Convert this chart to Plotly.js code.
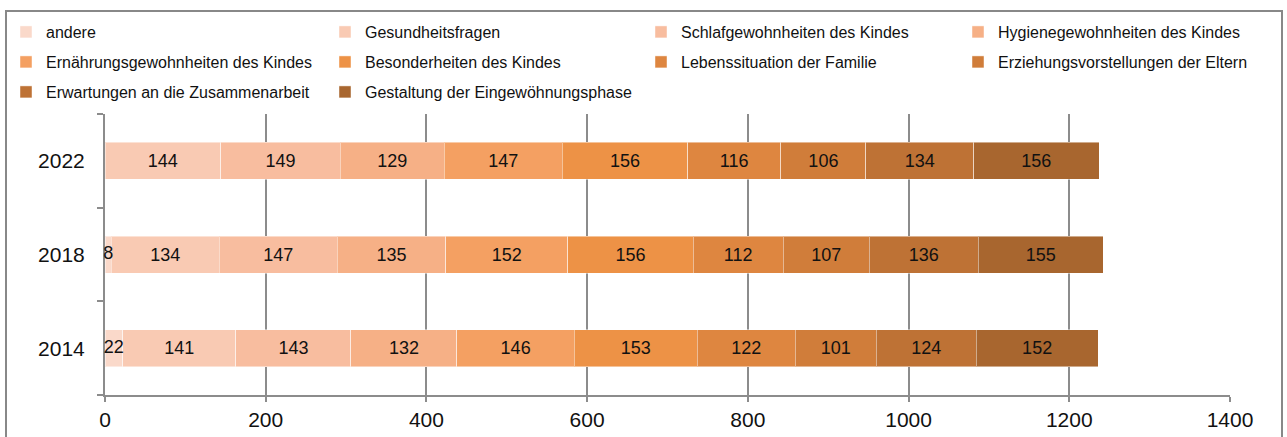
<!DOCTYPE html>
<html>
<head>
<meta charset="utf-8">
<script src="https://cdn.plot.ly/plotly-3.0.1.min.js"></script>
<style>
  html, body { margin: 0; padding: 0; background: #fff; }
  #wrap { position: relative; width: 1287px; height: 437px; overflow: hidden; }
  #chart { position: absolute; left: 0; top: 0; width: 1287px; height: 437px; }
  #frame { position: absolute; left: 5px; top: 10px; width: 1278px; height: 440px;
           border: 2px solid #888888; pointer-events: none; box-sizing: border-box; }
</style>
</head>
<body>
<div id="wrap">
  <div id="chart"></div>
  <div id="frame"></div>
</div>
<script>
// ---- data ----
const years = ['2014', '2018', '2022'];

const seriesNames = [
  'andere',
  'Gesundheitsfragen',
  'Schlafgewohnheiten des Kindes',
  'Hygienegewohnheiten des Kindes',
  'Ernährungsgewohnheiten des Kindes',
  'Besonderheiten des Kindes',
  'Lebenssituation der Familie',
  'Erziehungsvorstellungen der Eltern',
  'Erwartungen an die Zusammenarbeit',
  'Gestaltung der Eingewöhnungsphase'
];

const andere          = [22, 8, null];
const gesundheit      = [141, 134, 144];
const schlaf          = [143, 147, 149];
const hygiene         = [132, 135, 129];
const ernaehrung      = [146, 152, 147];
const besonderheiten  = [153, 156, 156];
const lebenssituation = [122, 112, 116];
const erziehung       = [101, 107, 106];
const erwartungen     = [124, 136, 134];
const gestaltung      = [152, 155, 156];

const seriesColors = [
  '#fad9ca', '#f9cab3', '#f8bd9f', '#f6b086', '#f4a062',
  '#ed9246', '#de8640', '#d07d3a', '#be7235', '#a8662f'
];

const xTicks = [0, 200, 400, 600, 800, 1000, 1200, 1400];

// ---- build ----
const seriesValues = [andere, gesundheit, schlaf, hygiene, ernaehrung,
  besonderheiten, lebenssituation, erziehung, erwartungen, gestaltung];

const FONT = 'Liberation Sans, Arial, sans-serif';

const plotL = 105, plotR = 57, plotT = 114, plotB = 42;
const W = 1287, H = 437;
const pw = W - plotL - plotR, ph = H - plotT - plotB;
const px2x = p => (p - plotL) / pw;
const py2y = p => (H - plotB - p) / ph;

// legend grid: 4 columns x 3 rows (one legend per entry)
const colBoxX = [6, 325, 641, 958];
const rowMidY = [32, 62, 92];

const legendKey = i => (i === 0 ? 'legend' : 'legend' + (i + 1));

const traces = seriesValues.map((vals, i) => ({
  type: 'bar',
  orientation: 'h',
  name: seriesNames[i],
  y: years,
  x: vals,
  // the first (tiny) segment gets its label from an overlay text trace below
  text: vals.map(v => (v === null || i === 0 ? '' : String(v))),
  texttemplate: '%{text}',
  textposition: 'inside',
  insidetextanchor: 'middle',
  textangle: 0,
  constraintext: 'none',
  cliponaxis: false,
  insidetextfont: { family: FONT, size: 18, color: '#111111' },
  marker: { color: seriesColors[i], line: { color: 'rgba(255,255,255,0.45)', width: 1 } },
  legend: legendKey(i),
  hoverinfo: 'x+name'
}));

// overlay labels for the narrow "andere" segments (drawn above the other bars)
const andereYears = years.filter((_, k) => andere[k] !== null);
const andereVals = andere.filter(v => v !== null);
traces.push({
  type: 'scatter',
  mode: 'text',
  x: andereVals.map(v => v / 2),
  y: andereYears,
  text: andereVals.map(String),
  textposition: 'middle center',
  textfont: { family: FONT, size: 18, color: '#111111' },
  cliponaxis: false,
  showlegend: false,
  hoverinfo: 'skip'
});

const layout = {
  width: W, height: H,
  margin: { l: plotL, r: plotR, t: plotT, b: plotB, pad: 0, autoexpand: false },
  paper_bgcolor: '#ffffff',
  plot_bgcolor: '#ffffff',
  barmode: 'stack',
  bargap: 0.605,
  font: { family: FONT, color: '#111111' },
  showlegend: true,
  xaxis: {
    range: [0, 1400],
    tickvals: xTicks,
    ticktext: xTicks.map(String),
    showgrid: true, gridcolor: '#8c8c8c', gridwidth: 2,
    zeroline: false,
    showline: true, linecolor: '#8c8c8c', linewidth: 2,
    ticks: 'outside', ticklen: 5, tickcolor: '#8c8c8c', tickwidth: 2,
    tickfont: { family: FONT, size: 21, color: '#111111' },
    automargin: false,
    layer: 'below traces',
    fixedrange: true
  },
  yaxis: {
    type: 'category',
    categoryorder: 'array',
    categoryarray: years,
    showgrid: false,
    zeroline: false,
    showline: true, linecolor: '#8c8c8c', linewidth: 2,
    ticks: 'outside', tickson: 'boundaries', ticklen: 6, tickcolor: '#8c8c8c', tickwidth: 2,
    ticklabelstandoff: 14,
    tickfont: { family: FONT, size: 21, color: '#111111' },
    automargin: false,
    layer: 'below traces',
    fixedrange: true
  }
};

seriesNames.forEach((_, i) => {
  const col = i % 4, row = Math.floor(i / 4);
  layout[legendKey(i)] = {
    orientation: 'h',
    x: px2x(colBoxX[col]), xanchor: 'left',
    y: py2y(rowMidY[row]), yanchor: 'middle',
    font: { family: FONT, size: 16, color: '#111111' },
    bgcolor: 'rgba(0,0,0,0)',
    borderwidth: 0
  };
});

Plotly.newPlot('chart', traces, layout, { displayModeBar: false, staticPlot: true });
</script>
</body>
</html>
